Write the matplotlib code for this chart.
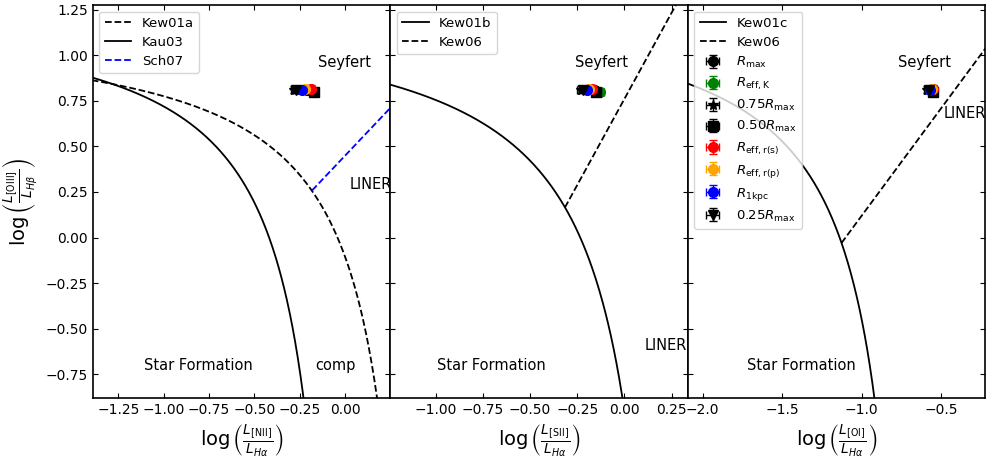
import matplotlib.pyplot as plt
import numpy as np

# demarcation line coefficients: y = a / (x - b) + c
kew01a = [0.61, 0.47, 1.19]
kau03 = [0.61, 0.05, 1.30]
kew01b = [0.72, 0.32, 1.30]
kew01c = [0.73, -0.59, 1.33]
# straight lines: y = m * x + q, start x
sch07 = [1.05, 0.45, -0.182]
kew06_s2 = [1.89, 0.76, -0.315]
kew06_o1 = [1.18, 1.30, -1.127]

# measured line ratios for each aperture
labels = [r'$R_{\rm max}$', r'$R_{\rm eff,K}$', r'$0.75R_{\rm max}$', r'$0.50R_{\rm max}$',
          r'$R_{\rm eff,r(s)}$', r'$R_{\rm eff,r(p)}$', r'$R_{\rm 1kpc}$', r'$0.25R_{\rm max}$']
colors = ['black', 'green', 'black', 'black', 'red', 'orange', 'blue', 'black']
markers = ['o', 'o', '*', 's', 'o', 'o', 'o', 'v']
n2 = [-0.21, -0.17, -0.28, -0.17, -0.19, -0.22, -0.24, -0.27]
s2 = [-0.16, -0.13, -0.23, -0.15, -0.17, -0.19, -0.20, -0.22]
o1 = [-0.56, -0.55, -0.59, -0.55, -0.55, -0.56, -0.57, -0.58]
o3 = [0.81, 0.80, 0.81, 0.80, 0.815, 0.815, 0.81, 0.81]
xerr = [0.02, 0.02, 0.02, 0.02, 0.02, 0.02, 0.02, 0.02]
yerr = [0.02, 0.02, 0.02, 0.02, 0.02, 0.02, 0.02, 0.02]


def curve(x, p):
    return p[0] / (x - p[1]) + p[2]


fig, axs = plt.subplots(1, 3, figsize=(9.88, 4.58), dpi=100, sharey=True)
plt.subplots_adjust(left=0.094, right=0.997, top=0.989, bottom=0.131, wspace=0)

ylim = (-0.88, 1.275)
xlims = [(-1.39, 0.248), (-1.24, 0.335), (-2.094, -0.225)]
xdata = [n2, s2, o1]
xlabels = [r'$\log\left(\frac{L_{\rm [NII]}}{L_{H\alpha}}\right)$',
           r'$\log\left(\frac{L_{\rm [SII]}}{L_{H\alpha}}\right)$',
           r'$\log\left(\frac{L_{\rm [OI]}}{L_{H\alpha}}\right)$']

# panel 1: NII
ax = axs[0]
x = np.linspace(-1.5, 0.4, 500)
ax.plot(x, curve(x, kew01a), 'k--', lw=1.3, label='Kew01a')
x = np.linspace(-1.5, 0.0, 500)
ax.plot(x, curve(x, kau03), 'k-', lw=1.3, label='Kau03')
x = np.linspace(sch07[2], 0.3, 50)
ax.plot(x, sch07[0] * x + sch07[1], 'b--', lw=1.3, label='Sch07')
ax.text(-0.149, 0.96, 'Seyfert', fontsize=10.5, va='center')
ax.text(0.022, 0.29, 'LINER', fontsize=10.5, va='center')
ax.text(-1.11, -0.70, 'Star Formation', fontsize=10.5, va='center')
ax.text(-0.165, -0.70, 'comp', fontsize=10.5, va='center')

# panel 2: SII
ax = axs[1]
x = np.linspace(-1.5, 0.3, 500)
ax.plot(x, curve(x, kew01b), 'k-', lw=1.3, label='Kew01b')
x = np.linspace(kew06_s2[2], 0.4, 50)
ax.plot(x, kew06_s2[0] * x + kew06_s2[1], 'k--', lw=1.3, label='Kew06')
ax.text(-0.26, 0.96, 'Seyfert', fontsize=10.5, va='center')
ax.text(0.107, -0.59, 'LINER', fontsize=10.5, va='center')
ax.text(-0.99, -0.70, 'Star Formation', fontsize=10.5, va='center')

# panel 3: OI
ax = axs[2]
x = np.linspace(-2.2, -0.6, 500)
ax.plot(x, curve(x, kew01c), 'k-', lw=1.3, label='Kew01c')
x = np.linspace(kew06_o1[2], 0.0, 50)
ax.plot(x, kew06_o1[0] * x + kew06_o1[1], 'k--', lw=1.3, label='Kew06')
ax.text(-0.773, 0.96, 'Seyfert', fontsize=10.5, va='center')
ax.text(-0.486, 0.68, 'LINER', fontsize=10.5, va='center')
ax.text(-1.72, -0.70, 'Star Formation', fontsize=10.5, va='center')

for i, ax in enumerate(axs):
    for j in range(len(labels)):
        ax.errorbar(xdata[i][j], o3[j], xerr=xerr[j], yerr=yerr[j], fmt=markers[j],
                    color=colors[j], ms=7, capsize=3, elinewidth=1, label=labels[j] if i == 2 else None)
    ax.set_xlim(xlims[i])
    ax.set_ylim(ylim)
    ax.set_xlabel(xlabels[i], fontsize=14)
    ax.tick_params(direction='in', top=True, right=True, labelsize=10)
    for sp in ax.spines.values():
        sp.set_linewidth(1.2)
    ax.legend(loc='upper left', fontsize=9.5, labelspacing=0.45)

axs[0].set_ylabel(r'$\log\left(\frac{L_{\rm [OIII]}}{L_{H\beta}}\right)$', fontsize=14)

plt.savefig('out.png')
